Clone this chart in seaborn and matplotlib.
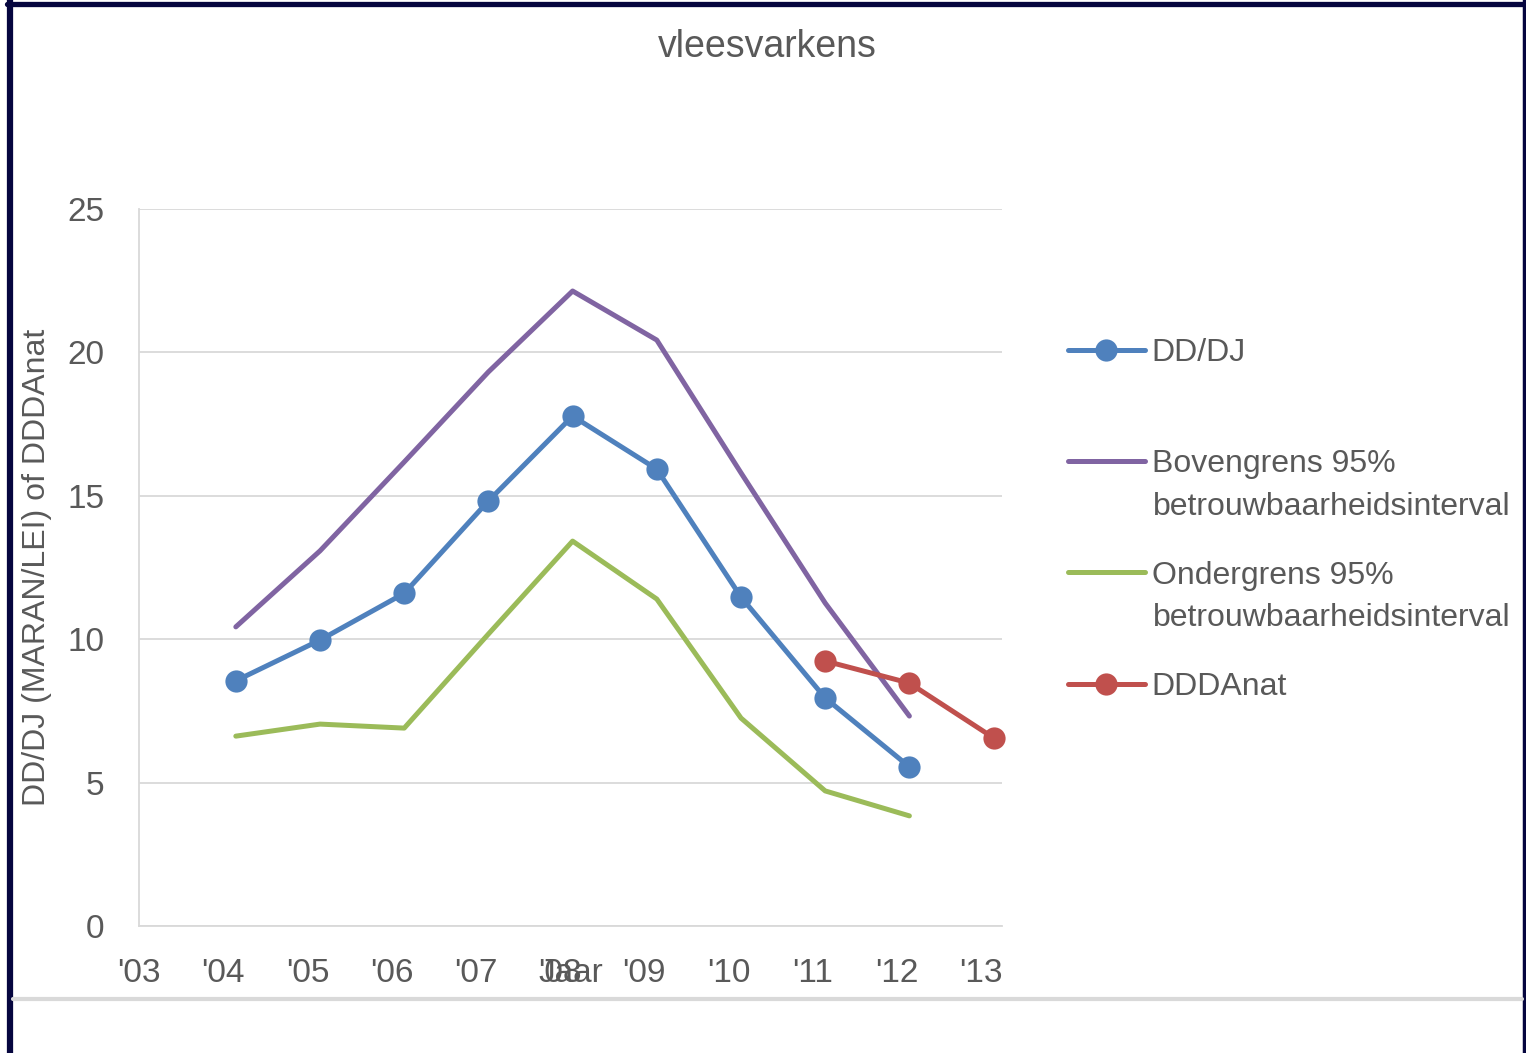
"""vleesvarkens: DD/DJ met 95% betrouwbaarheidsinterval en DDDAnat"""
import numpy as np
import pandas as pd
import matplotlib
matplotlib.use("Agg")
import matplotlib.pyplot as plt
from matplotlib.lines import Line2D
import seaborn as sns

# data
jaren = [2004, 2005, 2006, 2007, 2008, 2009, 2010, 2011, 2012]
dd_dj = [8.55, 9.97, 11.6, 14.82, 17.78, 15.93, 11.47, 7.95, 5.55]
bovengrens = [10.43, 13.08, 16.18, 19.32, 22.14, 20.43, 15.8, 11.26, 7.32]
ondergrens = [6.62, 7.04, 6.9, 10.18, 13.42, 11.4, 7.25, 4.71, 3.84]
jaren_ddda = [2011, 2012, 2013]
dddanat = [9.24, 8.47, 6.56]
tick_jaren = list(range(2003, 2014))
tick_labels = ["'03", "'04", "'05", "'06", "'07", "'08", "'09", "'10", "'11", "'12", "'13"]

# points sit a little after the year tick
OFFSET = 0.15

blauw, paars, groen, rood = "#4F81BD", "#8064A2", "#9BBB59", "#C0504D"
grijs = "#595959"
W, H = 1526, 1053

sns.set_style("white")
plt.rcParams['font.family'] = ['Liberation Sans', 'DejaVu Sans']

df = pd.DataFrame({'x': np.array(jaren) + OFFSET, 'DD/DJ': dd_dj,
                   'boven': bovengrens, 'onder': ondergrens})
df2 = pd.DataFrame({'x': np.array(jaren_ddda) + OFFSET, 'DDDAnat': dddanat})

fig = plt.figure(figsize=(W / 100, H / 100), dpi=100)
ax = fig.add_axes([139 / W, 1 - 926 / H, (1002 - 139) / W, (926 - 209) / H])

lw, ms = 3.6, 16
sns.lineplot(data=df, x='x', y='boven', color=paars, lw=lw, ax=ax)
sns.lineplot(data=df, x='x', y='onder', color=groen, lw=lw, ax=ax)
sns.lineplot(data=df, x='x', y='DD/DJ', color=blauw, lw=lw, marker='o',
             markersize=ms, markeredgewidth=0, ax=ax)
sns.lineplot(data=df2, x='x', y='DDDAnat', color=rood, lw=lw, marker='o',
             markersize=ms, markeredgewidth=0, ax=ax, clip_on=False)

ax.set_xlim(2003, 2013.25)
ax.set_ylim(0, 25)
ax.set_xticks(tick_jaren)
ax.set_xticklabels(tick_labels)
ax.set_yticks([0, 5, 10, 15, 20, 25])
ax.tick_params(axis='both', length=0, labelsize=24, labelcolor=grijs)
ax.tick_params(axis='x', pad=23)
ax.tick_params(axis='y', pad=25)
ax.grid(axis='y', color='#D9D9D9', lw=1.3)
ax.set_axisbelow(True)
for s in ['top', 'right']:
    ax.spines[s].set_visible(False)
for s in ['left', 'bottom']:
    ax.spines[s].set_color('#D9D9D9')
    ax.spines[s].set_linewidth(1.3)

ax.set_ylabel('DD/DJ (MARAN/LEI) of DDDAnat', fontsize=23, color=grijs)
ax.yaxis.set_label_coords((37 - 139) / 863, (926 - 567) / 717)
ax.yaxis.label.set_va('center')
ax.set_xlabel('Jaar', fontsize=24, color=grijs)
ax.xaxis.set_label_coords((571 - 139) / 863, -0.0656)
ax.xaxis.label.set_va('center')

fig.suptitle('vleesvarkens', fontsize=27, color=grijs, x=767 / W, y=1 - 47 / H, va='center')

# legend (second line of the interval labels added as plain text)
handles = [
    Line2D([], [], color=blauw, lw=lw, marker='o', markersize=ms, markeredgewidth=0),
    Line2D([], [], color=paars, lw=lw),
    Line2D([], [], color=groen, lw=lw),
    Line2D([], [], color=rood, lw=lw, marker='o', markersize=ms, markeredgewidth=0),
]
labels = ['DD/DJ', 'Bovengrens 95%', 'Ondergrens 95%', 'DDDAnat']
leg = fig.legend(handles, labels, loc='upper left', bbox_to_anchor=(1068 / W, 1 - 338 / H),
                 frameon=False, fontsize=23, labelcolor=grijs, handlelength=2.4,
                 handletextpad=0.22, labelspacing=2.545, borderpad=0, borderaxespad=0)
for y in [507, 618]:
    fig.text(1153 / W, 1 - y / H, 'betrouwbaarheidsinterval', fontsize=23,
             color=grijs, va='center', ha='left')

# frame: navy border and grey separator line
navy = '#06063F'
fig.add_artist(Line2D([10 / W, 10 / W], [0, 1], transform=fig.transFigure, color=navy, lw=4.5))
fig.add_artist(Line2D([7 / W, 1 - 1 / W], [1 - 3.5 / H] * 2, transform=fig.transFigure, color=navy, lw=3.8))
fig.add_artist(Line2D([1 - 2 / W, 1 - 2 / W], [0, 1], transform=fig.transFigure, color=navy, lw=2.5))
fig.add_artist(Line2D([13 / W, 1522 / W], [1 - 999 / H] * 2,
                      transform=fig.transFigure, color='#D9D9D9', lw=3))

plt.savefig('out.png', dpi=100)
